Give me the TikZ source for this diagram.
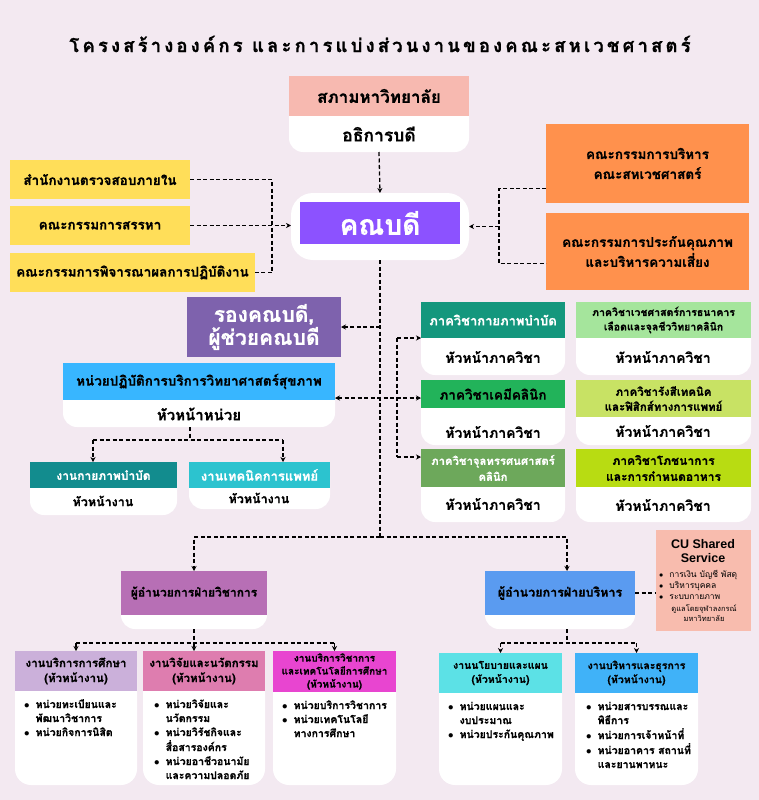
\documentclass[tikz,border=0pt]{standalone}
\usepackage{fontspec}
\setmainfont[Script=Thai,BoldFeatures={FakeBold=0.7}]{Loma}
\newfontfamily\titlefont[Script=Thai,LetterSpace=17,BoldFeatures={FakeBold=0.9}]{Loma}
\newfontfamily\lsans{Liberation Sans}
\usetikzlibrary{arrows.meta}
\newcommand\fsz[2]{\fontsize{#1}{#2}\selectfont}
\definecolor{bg}{HTML}{F3E9F1}
\definecolor{cSalmon}{HTML}{F7B9B0}
\definecolor{cYellow}{HTML}{FFDE59}
\definecolor{cOrange}{HTML}{FF914D}
\definecolor{cDean}{HTML}{8C52FF}
\definecolor{cVice}{HTML}{7E62AD}
\definecolor{cUnit}{HTML}{38B6FF}
\definecolor{cPt}{HTML}{128C8E}
\definecolor{cMt}{HTML}{2CC3CF}
\definecolor{cKaya}{HTML}{14977D}
\definecolor{cBb}{HTML}{A5E59C}
\definecolor{cChem}{HTML}{22B35A}
\definecolor{cRad}{HTML}{C8E264}
\definecolor{cMicro}{HTML}{6DA85B}
\definecolor{cNut}{HTML}{B8DC12}
\definecolor{cAcad}{HTML}{B76FB5}
\definecolor{cAdm}{HTML}{5A9BF0}
\definecolor{cCu}{HTML}{F8BCAE}
\definecolor{cEdu}{HTML}{CBB0DA}
\definecolor{cRes}{HTML}{DE7DAF}
\definecolor{cSvc}{HTML}{E845D0}
\definecolor{cPlan}{HTML}{5CE1E6}
\definecolor{cGa}{HTML}{40B2F8}
\tikzset{
  hdr/.style={anchor=north west, inner sep=1pt, outer sep=0pt, align=center, font=\bfseries, text=black},
  card/.style={anchor=north west, fill=white, rounded corners=14pt, inner sep=0pt, outer sep=0pt},
  lbl/.style={inner sep=0pt, font=\bfseries\fsz{14}{17}, text=black},
  bl/.style={anchor=north west, inner sep=0pt, align=left, font=\bfseries\fsz{10.5}{14}},
  dl/.style={line width=1.3pt, dash pattern=on 4pt off 2.5pt},
  dla/.style={dl, -{Stealth[length=5pt,width=5pt]}},
  dlb/.style={dl, {Stealth[length=5pt,width=5pt]}-{Stealth[length=5pt,width=5pt]}},
}
\newcommand\blist[1]{\begin{tabular}{@{}l@{\hspace{6pt}}l@{}}#1\end{tabular}}
\newcommand\bu{$\bullet$}
\begin{document}
\begin{tikzpicture}[x=1pt,y=-1pt]
\fill[bg] (0,0) rectangle (759,800);
\useasboundingbox (0,0) rectangle (759,800);

% title
\node[inner sep=0pt, font=\titlefont\bfseries\fsz{18.5}{22}] (title) at (380,44) {โครงสร้างองค์กร และการแบ่งส่วนงานของคณะสหเวชศาสตร์};

% top
\node[card, minimum width=180pt, minimum height=76pt] (rect-w) at (289,76) {};
\node[hdr, fill=cSalmon, minimum width=180pt, minimum height=40pt, font=\bfseries\fsz{17}{20}] (council) at (289,76) {สภามหาวิทยาลัย};
\node[lbl, font=\bfseries\fsz{17.5}{20}] (rector) at (379,134) {อธิการบดี};

% dean
\node[card, rounded corners=22pt, minimum width=178pt, minimum height=67pt] (dean-w) at (291,193) {};
\node[hdr, fill=cDean, text=white, minimum width=160pt, minimum height=42pt, font=\bfseries\fsz{28}{30}] (dean) at (300,202) {คณบดี};

% left yellow
\node[hdr, fill=cYellow, minimum width=180pt, minimum height=39pt, font=\bfseries\fsz{13.5}{16}] (y1) at (10,160) {สำนักงานตรวจสอบภายใน};
\node[hdr, fill=cYellow, minimum width=180pt, minimum height=39pt, font=\bfseries\fsz{13.5}{16}] (y2) at (10,206) {คณะกรรมการสรรหา};
\node[hdr, fill=cYellow, minimum width=245pt, minimum height=39pt, font=\bfseries\fsz{13.5}{16}] (y3) at (10,253) {คณะกรรมการพิจารณาผลการปฏิบัติงาน};

% right orange
\node[hdr, fill=cOrange, minimum width=203pt, minimum height=79pt, font=\bfseries\fsz{13.5}{20}] (o1) at (546,124) {คณะกรรมการบริหาร\\คณะสหเวชศาสตร์};
\node[hdr, fill=cOrange, minimum width=203pt, minimum height=77pt, font=\bfseries\fsz{13.5}{20}] (o2) at (546,213) {คณะกรรมการประกันคุณภาพ\\และบริหารความเสี่ยง};

% vice dean
\node[hdr, fill=cVice, text=white, minimum width=154pt, minimum height=60pt, font=\bfseries\fsz{21}{23}] (vice) at (187,297) {รองคณบดี,\\ผู้ช่วยคณบดี};

% unit
\node[card, minimum width=272pt, minimum height=64pt] (unit-w) at (63,363) {};
\node[hdr, fill=cUnit, minimum width=272pt, minimum height=37pt, font=\bfseries\fsz{13.5}{17}] (unit) at (63,363) {หน่วยปฏิบัติการบริการวิทยาศาสตร์สุขภาพ};
\node[lbl, font=\bfseries\fsz{15}{18}] (unitL) at (199,414) {หัวหน้าหน่วย};

\node[card, minimum width=147pt, minimum height=53pt] (pt-w) at (30,462) {};
\node[hdr, fill=cPt, text=white, minimum width=147pt, minimum height=26pt, font=\bfseries\fsz{12}{15}] (pt) at (30,462) {งานกายภาพบำบัด};
\node[lbl, font=\bfseries\fsz{12.5}{15}] (ptL) at (103,501) {หัวหน้างาน};

\node[card, minimum width=141pt, minimum height=47pt] (mt-w) at (189,462) {};
\node[hdr, fill=cMt, text=white, minimum width=141pt, minimum height=26pt, font=\bfseries\fsz{13}{16}] (mt) at (189,462) {งานเทคนิคการแพทย์};
\node[lbl, font=\bfseries\fsz{12.5}{15}] (mtL) at (259,498) {หัวหน้างาน};

% departments
\node[card, minimum width=144pt, minimum height=73pt] (kaya-w) at (421,302) {};
\node[hdr, fill=cKaya, text=white, minimum width=144pt, minimum height=36pt, font=\bfseries\fsz{13}{16}] (kaya) at (421,302) {ภาควิชากายภาพบำบัด};
\node[lbl] (kayaL) at (493,357) {หัวหน้าภาควิชา};

\node[card, minimum width=175pt, minimum height=73pt] (bb-w) at (576,302) {};
\node[hdr, fill=cBb, minimum width=175pt, minimum height=36pt, font=\bfseries\fsz{10.5}{14.5}] (bb) at (576,302) {ภาควิชาเวชศาสตร์การธนาคาร\\เลือดและจุลชีววิทยาคลินิก};
\node[lbl] (bbL) at (663,357) {หัวหน้าภาควิชา};

\node[card, minimum width=144pt, minimum height=65pt] (chem-w) at (421,380) {};
\node[hdr, fill=cChem, minimum width=144pt, minimum height=28pt, font=\bfseries\fsz{13.5}{17}] (chem) at (421,380) {ภาควิชาเคมีคลินิก};
\node[lbl] (chemL) at (493,432) {หัวหน้าภาควิชา};

\node[card, minimum width=175pt, minimum height=65pt] (rad-w) at (576,380) {};
\node[hdr, fill=cRad, minimum width=175pt, minimum height=37pt, font=\bfseries\fsz{11.5}{15}] (rad) at (576,380) {ภาควิชารังสีเทคนิค\\และฟิสิกส์ทางการแพทย์};
\node[lbl] (radL) at (663,431) {หัวหน้าภาควิชา};

\node[card, minimum width=144pt, minimum height=73pt] (micro-w) at (421,449) {};
\node[hdr, fill=cMicro, text=white, minimum width=144pt, minimum height=38pt, font=\bfseries\fsz{11.3}{16}] (micro) at (421,449) {ภาควิชาจุลทรรศนศาสตร์\\คลินิก};
\node[lbl] (microL) at (493,504) {หัวหน้าภาควิชา};

\node[card, minimum width=175pt, minimum height=73pt] (nut-w) at (576,449) {};
\node[hdr, fill=cNut, minimum width=175pt, minimum height=38pt, font=\bfseries\fsz{12}{16}] (nut) at (576,449) {ภาควิชาโภชนาการ\\และการกำหนดอาหาร};
\node[lbl] (nutL) at (663,505) {หัวหน้าภาควิชา};

% directors
\node[card, minimum width=146pt, minimum height=58pt] (acad-w) at (121,571) {};
\node[hdr, fill=cAcad, minimum width=146pt, minimum height=44pt, font=\bfseries\fsz{12}{15}] (acad) at (121,571) {ผู้อำนวยการฝ่ายวิชาการ};
\node[card, minimum width=150pt, minimum height=58pt] (adm-w) at (485,571) {};
\node[hdr, fill=cAdm, minimum width=150pt, minimum height=44pt, font=\bfseries\fsz{12.5}{15}] (adm) at (485,571) {ผู้อำนวยการฝ่ายบริหาร};

% CU shared service
\node[hdr, fill=cCu, minimum width=95pt, minimum height=101pt] (cu) at (656,530) {};
\node[inner sep=0pt, align=center, font=\lsans\bfseries\fsz{12.5}{14}] (cuT) at (703,551) {CU Shared\\Service};
\node[anchor=north west, inner sep=0pt, align=left, font=\fsz{8.5}{11}] (cuB) at (659,570) {\blist{\bu & การเงิน บัญชี พัสดุ\\ \bu & บริหารบุคคล\\ \bu & ระบบกายภาพ}};
\node[inner sep=0pt, align=center, font=\fsz{7.5}{10}] (cuN) at (704,613) {ดูแลโดยจุฬาลงกรณ์\\มหาวิทยาลัย};

% bottom units
\node[card, rounded corners=16pt, minimum width=122pt, minimum height=134pt] (edu-w) at (15,651) {};
\node[hdr, fill=cEdu, minimum width=122pt, minimum height=40pt, font=\bfseries\fsz{11.5}{15}] (edu) at (15,651) {งานบริการการศึกษา\\(หัวหน้างาน)};
\node[bl] (eduB) at (24,698) {\blist{\bu & หน่วยทะเบียนและ\\ & พัฒนาวิชาการ\\ \bu & หน่วยกิจการนิสิต}};

\node[card, rounded corners=16pt, minimum width=122pt, minimum height=134pt] (res-w) at (143,651) {};
\node[hdr, fill=cRes, minimum width=122pt, minimum height=40pt, font=\bfseries\fsz{11.5}{15}] (res) at (143,651) {งานวิจัยและนวัตกรรม\\(หัวหน้างาน)};
\node[bl] (resB) at (154,698) {\blist{\bu & หน่วยวิจัยและ\\ & นวัตกรรม\\ \bu & หน่วยวิรัชกิจและ\\ & สื่อสารองค์กร\\ \bu & หน่วยอาชีวอนามัย\\ & และความปลอดภัย}};

\node[card, rounded corners=16pt, minimum width=123pt, minimum height=134pt] (svc-w) at (273,651) {};
\node[hdr, fill=cSvc, minimum width=123pt, minimum height=41pt, font=\bfseries\fsz{10}{13}] (svc) at (273,651) {งานบริการวิชาการ\\และเทคโนโลยีการศึกษา\\(หัวหน้างาน)};
\node[bl] (svcB) at (282,699) {\blist{\bu & หน่วยบริการวิชาการ\\ \bu & หน่วยเทคโนโลยี\\ & ทางการศึกษา}};

\node[card, rounded corners=16pt, minimum width=123pt, minimum height=132pt] (plan-w) at (439,653) {};
\node[hdr, fill=cPlan, minimum width=123pt, minimum height=40pt, font=\bfseries\fsz{10.5}{14}] (plan) at (439,653) {งานนโยบายและแผน\\(หัวหน้างาน)};
\node[bl] (planB) at (448,700) {\blist{\bu & หน่วยแผนและ\\ & งบประมาณ\\ \bu & หน่วยประกันคุณภาพ}};

\node[card, rounded corners=16pt, minimum width=123pt, minimum height=132pt] (ga-w) at (575,653) {};
\node[hdr, fill=cGa, minimum width=123pt, minimum height=40pt, font=\bfseries\fsz{10.5}{14}] (ga) at (575,653) {งานบริหารและธุรการ\\(หัวหน้างาน)};
\node[bl] (gaB) at (586,700) {\blist{\bu & หน่วยสารบรรณและ\\ & พิธีการ\\ \bu & หน่วยการเจ้าหน้าที่\\ \bu & หน่วยอาคาร สถานที่\\ & และยานพาหนะ}};

% ---------- connectors
\draw[dla] (rect-w.south) -- (dean-w.north);

\coordinate (ljx) at (272,0);
\draw[dl] (y1.east) -- (y1.east -| ljx) -- (y3.east -| ljx) -- (y3.east);
\draw[dla] (y2.east) -- (y2.east -| dean-w.west);

\coordinate (rjx) at (499,0);
\coordinate (o1p) at ([yshift=-25pt]o1.west);
\coordinate (o2p) at ([yshift=-12pt]o2.west);
\draw[dl] (o1p) -- (o1p -| rjx) -- (o2p -| rjx) -- (o2p);
\draw[dla] (dean-w.east -| rjx) -- (dean-w.east);

\coordinate (split) at (380,537);
\draw[dl] (dean-w.south) -- (split);
\draw[dla] (split) -| (acad.north);
\coordinate (admx) at (567,0);
\draw[dla] (split) -| (admx |- adm.north);
\draw[dla] (vice.east -| split) -- (vice.east);

\coordinate (ucy) at (0,398);
\draw[dlb] (unit-w.east |- ucy) -- (chem.west |- ucy);
\coordinate (bx) at (397,0);
\coordinate (m3) at ([yshift=-8pt]micro.north west);
\draw[dl] (kaya.south west -| bx) -- (m3 -| bx);
\draw[dla] (kaya.south west -| bx) -- (kaya.south west);
\draw[dla] (m3 -| bx) -- (m3);

\coordinate (ub) at (190,440);
\coordinate (ubl) at (93,440);
\coordinate (ubr) at (283,440);
\draw[dl] (ub |- unit-w.south) -- (ub);
\draw[dl] (ubl) -- (ubr);
\draw[dla] (ubl) -- (ubl |- pt.north);
\draw[dla] (ubr) -- (ubr |- mt.north);

\coordinate (abus) at (0,643);
\draw[dl] (acad-w.south) -- (acad-w.south |- abus);
\draw[dl] (edu.north |- abus) -- (svc.north |- abus);
\draw[dla] (edu.north |- abus) -- (edu.north);
\draw[dla] (acad-w.south |- abus) -- (acad-w.south |- res.north);
\draw[dla] (svc.north |- abus) -- (svc.north);

\coordinate (bbus) at (567,643);
\draw[dl] (bbus |- adm-w.south) -- (bbus);
\draw[dl] (plan.north |- bbus) -- (ga.north |- bbus);
\draw[dla] (plan.north |- bbus) -- (plan.north);
\draw[dla] (ga.north |- bbus) -- (ga.north);

\draw[dl] (adm.east) -- (adm.east -| cu.west);
\end{tikzpicture}
\end{document}
